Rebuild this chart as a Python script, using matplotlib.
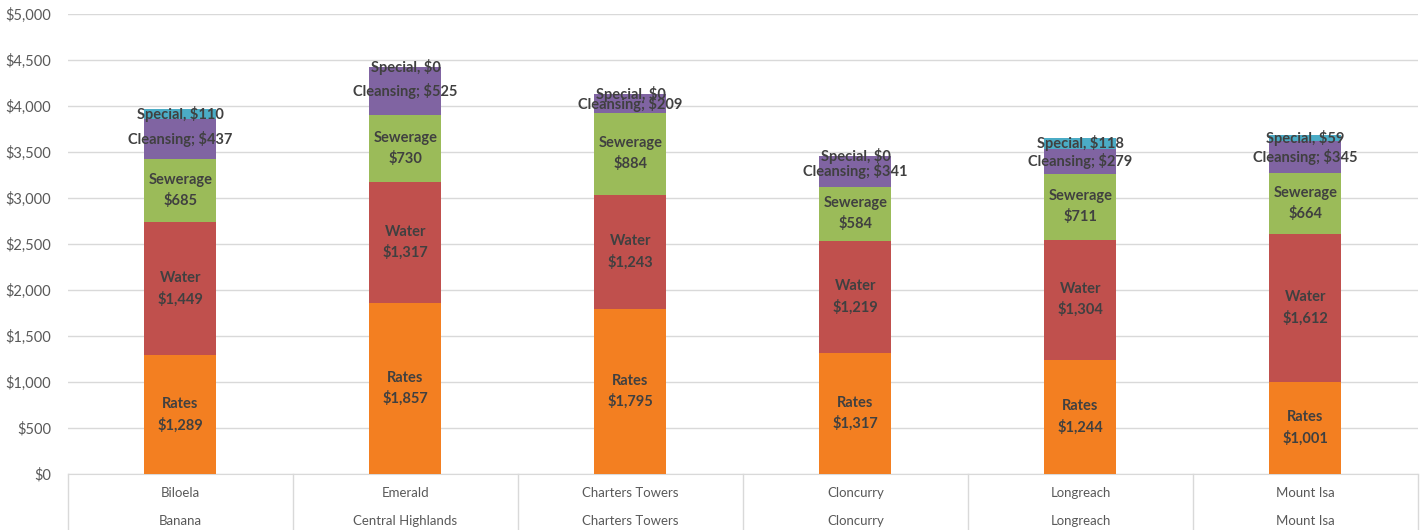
import matplotlib
matplotlib.use("Agg")
import matplotlib.pyplot as plt
import matplotlib.transforms as mtransforms
import numpy as np

plt.rcParams['font.family'] = ['Lato', 'DejaVu Sans']

towns = ["Biloela", "Emerald", "Charters Towers", "Cloncurry", "Longreach", "Mount Isa"]
councils = ["Banana", "Central Highlands", "Charters Towers", "Cloncurry", "Longreach", "Mount Isa"]
rates = [1289, 1857, 1795, 1317, 1244, 1001]
water = [1449, 1317, 1243, 1219, 1304, 1612]
sewerage = [685, 730, 884, 584, 711, 664]
cleansing = [437, 525, 209, 341, 279, 345]
special = [110, 0, 0, 0, 118, 59]

series = [
    ("Rates", rates, "#F37F21", "two"),
    ("Water", water, "#C0504D", "two"),
    ("Sewerage", sewerage, "#9BBB59", "two"),
    ("Cleansing", cleansing, "#8064A2", "semi"),
    ("Special", special, "#4BACC6", "comma"),
]

fig = plt.figure(figsize=(14.24, 5.30), dpi=100)
ax = fig.add_axes([68/1424, 56/530, 1350/1424, 460/530])

x = np.arange(len(towns))
bottom = np.zeros(len(towns))
label_color = "#404040"
for name, vals, color, style in series:
    vals = np.array(vals, dtype=float)
    ax.bar(x, vals, width=0.32, bottom=bottom, color=color, zorder=2)
    for xi, b, v in zip(x, bottom, vals):
        cy = b + v / 2
        if style == "two":
            txt = f"{name}\n${int(v):,}"
        elif style == "semi":
            txt = f"{name}; ${int(v):,}"
        else:
            txt = f"{name}, ${int(v):,}"
        ax.text(xi, cy, txt, ha="center", va="center", fontsize=10.5,
                fontweight="bold", color=label_color, linespacing=1.5, zorder=3)
    bottom = bottom + vals

ax.set_xlim(-0.5, len(towns) - 0.5)
ax.set_ylim(0, 5000)
yt = np.arange(0, 5001, 500)
ax.set_yticks(yt)
ax.set_yticklabels([f"${v:,}" for v in yt], fontsize=10.5, color="#595959")
ax.tick_params(axis="y", length=0, pad=12)
ax.set_xticks([])
ax.grid(axis="y", color="#D9D9D9", linewidth=1, zorder=0)
for s in ["left", "right", "top"]:
    ax.spines[s].set_visible(False)
ax.spines["bottom"].set_color("#D9D9D9")
ax.spines["bottom"].set_zorder(1)

trans = mtransforms.blended_transform_factory(ax.transData, ax.transAxes)
depth = -56 / 460
for b in np.arange(-0.5, len(towns), 1.0):
    ax.plot([b, b], [0, depth], transform=trans, color="#D9D9D9", lw=1, clip_on=False)
for xi, t, c in zip(x, towns, councils):
    ax.text(xi, -19 / 460, t, transform=trans, ha="center", va="center",
            fontsize=9.5, color="#595959")
    ax.text(xi, -47 / 460, c, transform=trans, ha="center", va="center",
            fontsize=9.5, color="#595959")

fig.savefig("out.png", dpi=100)
